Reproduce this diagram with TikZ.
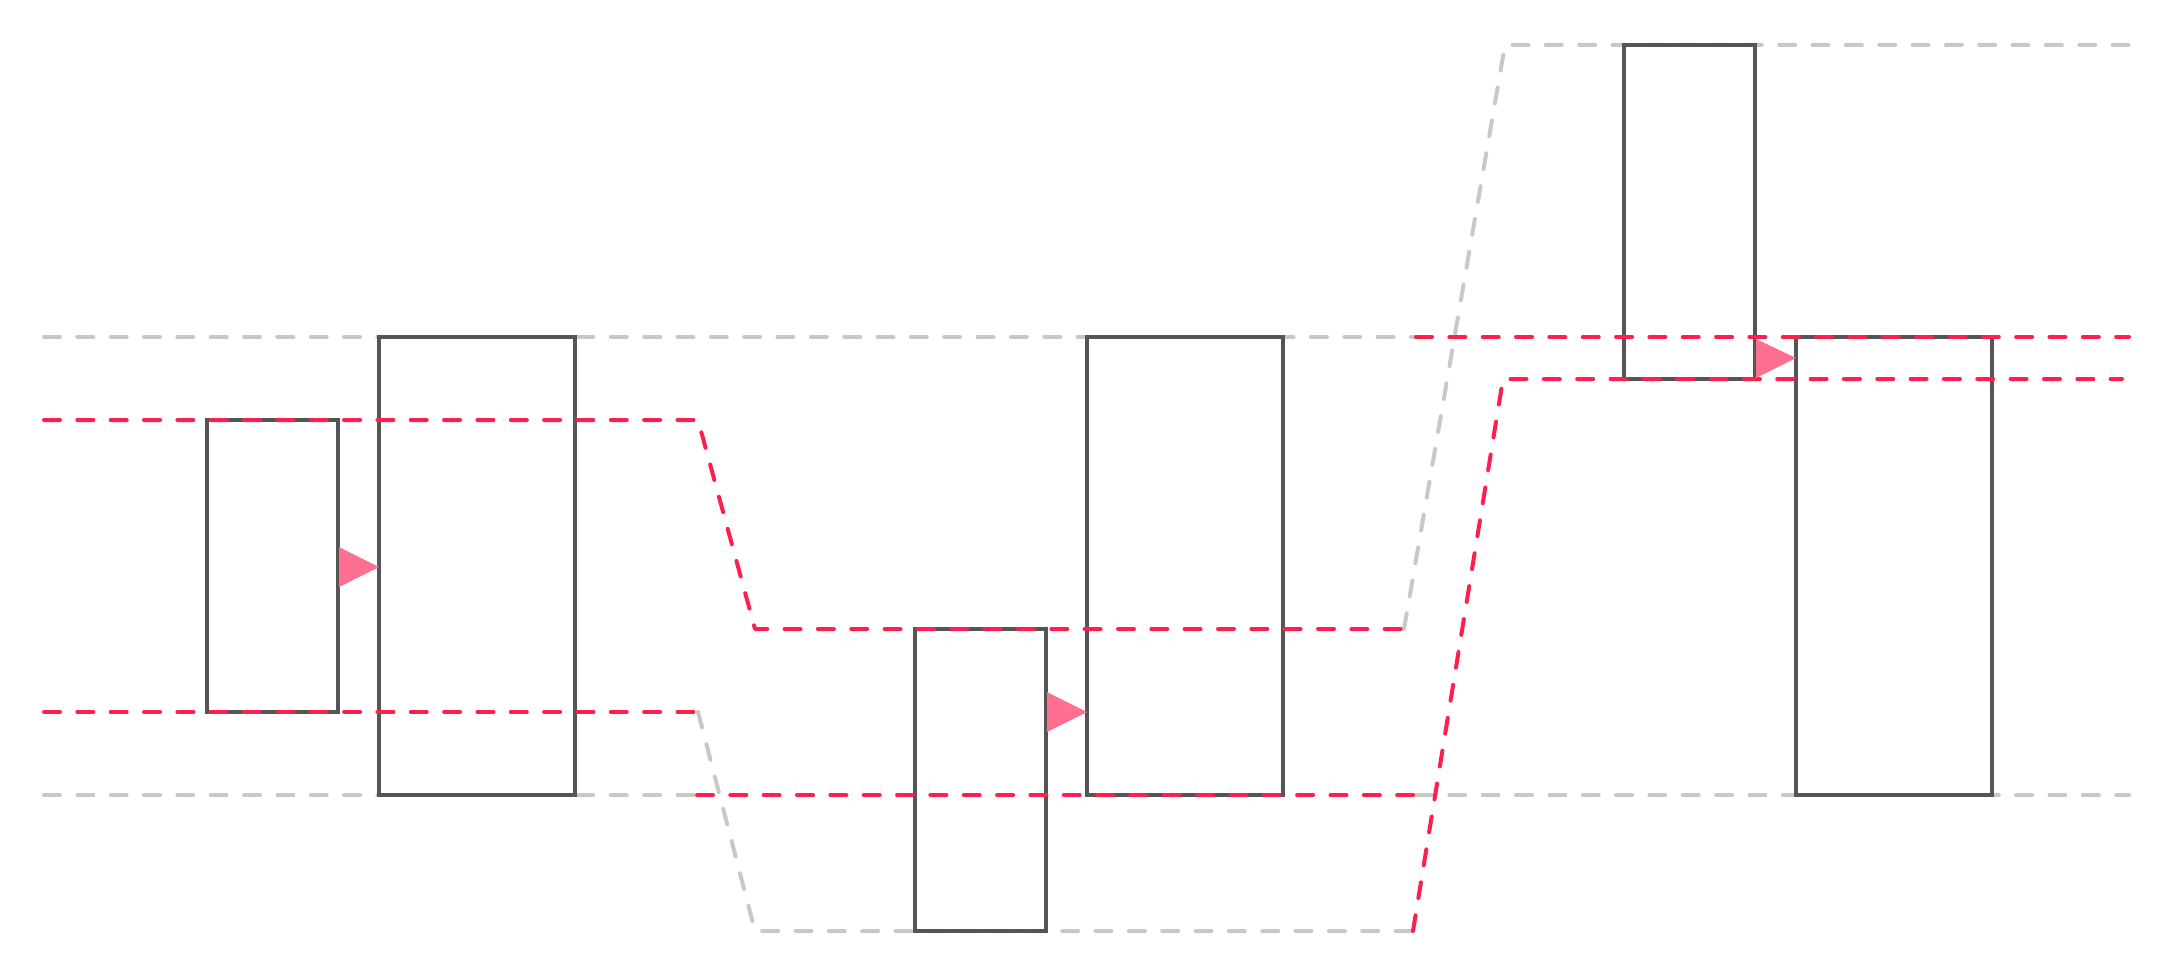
\documentclass[tikz,border=0pt]{standalone}
\definecolor{redl}{HTML}{FF1F4F}
\definecolor{grayl}{HTML}{C8C8C8}
\definecolor{boxc}{HTML}{555555}
\definecolor{tric}{HTML}{FF6F8F}
\begin{document}
\begin{tikzpicture}[x=0.5pt,y=-0.5pt,
  dl/.style={line width=2pt, dash pattern=on 8pt off 8.67pt, line cap=round, line join=round},
  gl/.style={dl, draw=grayl},
  rl/.style={dl, draw=redl},
  bx/.style={draw=boxc, line width=2.2pt, rectangle, inner sep=0pt, outer sep=0pt, anchor=north west},
  tri/.style={fill=tric, draw=none}]
\useasboundingbox (0,0) rectangle (2174,979);
% level coordinates
\coordinate (a0) at (44,337);
\coordinate (a1) at (1416,337);
\coordinate (a2) at (2129,337);
\coordinate (e0) at (44,795);
\coordinate (e1) at (697,795);
\coordinate (e2) at (1416,795);
\coordinate (e3) at (2129,795);
\coordinate (u0) at (44,420);
\coordinate (u1) at (698,420);
\coordinate (u2) at (755,629);
\coordinate (u3) at (1404,629);
\coordinate (u4) at (1505,45);
\coordinate (u5) at (2129,45);
\coordinate (l0) at (44,712);
\coordinate (l1) at (698,712);
\coordinate (l2) at (755,931);
\coordinate (l3) at (1413,931);
\coordinate (l4) at (1503,379);
\coordinate (l5) at (2122,379);
% gray segments
\draw[gl] (a0) -- (a1);
\draw[gl] (e0) -- (e1);
\draw[gl] (e2) -- (e3);
\draw[gl] (u3) -- (u4) -- (u5);
\draw[gl] (l1) -- (l2) -- (l3);
% boxes
\node[bx, minimum width=65.5pt, minimum height=146pt] (b1) at (207,420) {};
\node[bx, minimum width=98pt, minimum height=229pt] (b2) at (379,337) {};
\node[bx, minimum width=65.5pt, minimum height=151pt] (b3) at (915,629) {};
\node[bx, minimum width=98pt, minimum height=229pt] (b4) at (1087,337) {};
\node[bx, minimum width=65.5pt, minimum height=167pt] (b5) at (1624,45) {};
\node[bx, minimum width=98pt, minimum height=229pt] (b6) at (1796,337) {};
% red segments
\draw[rl] (a1) -- (a2);
\draw[rl] (e1) -- (e2);
\draw[rl] (u0) -- (u1) -- (u2) -- (u3);
\draw[rl] (l0) -- (l1);
\draw[rl] (l3) -- (l4) -- (l5);
% arrow triangles
\coordinate (t1) at (379,567);
\coordinate (t2) at (1087,712);
\coordinate (t3) at (1796,358);
\fill[tri] (339,547) -- (t1) -- (339,587) -- cycle;
\fill[tri] (1047,692) -- (t2) -- (1047,732) -- cycle;
\fill[tri] (1756,339) -- (t3) -- (1756,378) -- cycle;
\end{tikzpicture}
\end{document}
